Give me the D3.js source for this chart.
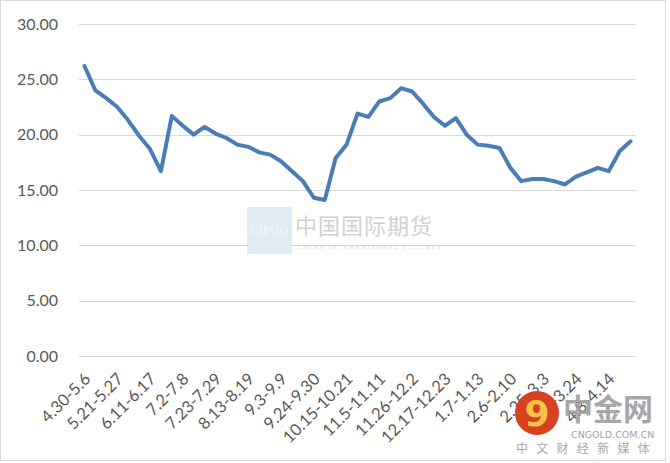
<!DOCTYPE html>
<html>
<head>
<meta charset="utf-8">
<script src="https://cdn.jsdelivr.net/npm/d3@7"></script>
<style>
  body { margin: 0; background: #fff; }
  svg { display: block; }
</style>
</head>
<body>
<svg id="chart" width="670" height="463"></svg>
<script>
// weekly categories (every third one gets a label)
const weeks = [
  '4.30-5.6', '5.7-5.13', '5.14-5.20', '5.21-5.27', '5.28-6.3', '6.4-6.10',
  '6.11-6.17', '6.18-6.24', '6.25-7.1', '7.2-7.8', '7.9-7.15', '7.16-7.22',
  '7.23-7.29', '7.30-8.5', '8.6-8.12', '8.13-8.19', '8.20-8.26', '8.27-9.2',
  '9.3-9.9', '9.10-9.16', '9.17-9.23', '9.24-9.30', '10.1-10.7', '10.8-10.14',
  '10.15-10.21', '10.22-10.28', '10.29-11.4', '11.5-11.11', '11.12-11.18', '11.19-11.25',
  '11.26-12.2', '12.3-12.9', '12.10-12.16', '12.17-12.23', '12.24-12.30', '12.31-1.6',
  '1.7-1.13', '1.14-1.20', '1.21-1.27', '2.6-2.10', '2.11-2.17', '2.18-2.24',
  '2.25-3.3', '3.4-3.10', '3.11-3.17', '3.18-3.24', '3.25-3.31', '4.1-4.7',
  '4.8-4.14', '4.15-4.21', '4.22-4.28'
];

const values = [
  26.2, 24.0, 23.3, 22.5, 21.3, 19.9,
  18.7, 16.7, 21.7, 20.8, 20.0, 20.7,
  20.1, 19.7, 19.1, 18.9, 18.4, 18.2,
  17.6, 16.7, 15.8, 14.3, 14.1, 17.9,
  19.1, 21.9, 21.6, 23.0, 23.3, 24.2,
  23.9, 22.8, 21.6, 20.8, 21.5, 20.0,
  19.1, 19.0, 18.8, 17.0, 15.8, 16.0,
  16.0, 15.8, 15.5, 16.2, 16.6, 17.0,
  16.7, 18.5, 19.4
];

const yTicks = [0, 5, 10, 15, 20, 25, 30];

const svg = d3.select('#chart');

// outer frame
svg.append('rect')
  .attr('x', 0.5).attr('y', 0.5)
  .attr('width', 665).attr('height', 460)
  .attr('fill', '#fff')
  .attr('stroke', '#d9d9d9');

const x = d3.scalePoint()
  .domain(weeks)
  .range([79, 636])
  .padding(0.5);

const y = d3.scaleLinear()
  .domain([0, 30])
  .range([356, 24]);

// gridlines
svg.append('g')
  .selectAll('line')
  .data(yTicks)
  .enter()
  .append('line')
  .attr('x1', 79)
  .attr('x2', 636)
  .attr('y1', d => Math.round(y(d)) + 0.5)
  .attr('y2', d => Math.round(y(d)) + 0.5)
  .style('stroke', '#d9d9d9')
  .style('stroke-width', '1px');

// y labels
svg.append('g')
  .selectAll('text')
  .data(yTicks)
  .enter()
  .append('text')
  .attr('x', 58)
  .attr('y', d => y(d))
  .attr('dy', '0.35em')
  .attr('text-anchor', 'end')
  .style('font-family', 'Lato, "Open Sans", sans-serif')
  .style('font-size', '16px')
  .style('fill', '#595959')
  .text(d => d.toFixed(2));

// x labels, every third week
svg.append('g')
  .selectAll('text')
  .data(weeks.filter((d, i) => i % 3 === 0))
  .enter()
  .append('text')
  .attr('transform', d => 'translate(' + (x(d) + 3) + ',376) rotate(-45)')
  .attr('text-anchor', 'end')
  .attr('dy', '0.35em')
  .style('font-family', 'Lato, "Open Sans", sans-serif')
  .style('font-size', '16.5px')
  .style('fill', '#595959')
  .text(d => d);

// CIFCO watermark
const wm = svg.append('g').style('opacity', 0.85);
wm.append('rect')
  .attr('x', 247).attr('y', 207)
  .attr('width', 45).attr('height', 47)
  .attr('fill', '#dde7f1');
wm.append('text')
  .attr('x', 269).attr('y', 234)
  .attr('text-anchor', 'middle')
  .style('font-family', '"DejaVu Serif", serif')
  .style('font-size', '11px')
  .style('fill', '#f4f7fb')
  .text('CIFCO');
wm.append('text')
  .attr('x', 295).attr('y', 234)
  .style('font-family', '"Noto Sans CJK SC", sans-serif')
  .style('font-size', '22px')
  .style('letter-spacing', '1px')
  .style('fill', '#c9c9c9')
  .text('中国国际期货');
wm.append('text')
  .attr('x', 297).attr('y', 249)
  .style('font-family', '"DejaVu Serif", serif')
  .style('font-size', '5.5px')
  .style('letter-spacing', '1.6px')
  .style('fill', '#d0d0d0')
  .text('CHINA INTERNATIONAL FUTURES');

// data line
const line = d3.line()
  .x((d, i) => x(weeks[i]))
  .y(d => y(d));

svg.append('path')
  .datum(values)
  .attr('d', line)
  .attr('fill', 'none')
  .style('stroke', '#4a7db5')
  .style('stroke-width', '4px')
  .style('stroke-linejoin', 'round')
  .style('stroke-linecap', 'round');

// CNGOLD logo
const logo = svg.append('g');
logo.append('circle')
  .attr('cx', 537).attr('cy', 413).attr('r', 22)
  .attr('fill', '#d8401f');
logo.append('text')
  .attr('x', 537).attr('y', 426)
  .attr('text-anchor', 'middle')
  .style('font-family', '"DejaVu Sans", sans-serif')
  .style('font-weight', 'bold')
  .style('font-size', '36px')
  .style('fill', '#f7c14a')
  .text('9');
logo.append('text')
  .attr('x', 563).attr('y', 420)
  .style('font-family', '"Noto Sans CJK SC", sans-serif')
  .style('font-weight', 'bold')
  .style('font-size', '30px')
  .style('fill', '#9e9e9e')
  .style('opacity', 0.9)
  .text('中金网');
logo.append('text')
  .attr('x', 571).attr('y', 438)
  .style('font-family', '"DejaVu Sans", sans-serif')
  .style('font-size', '9.5px')
  .style('fill', '#a0a0a0')
  .text('CNGOLD.COM.CN');
logo.append('text')
  .attr('x', 516).attr('y', 453)
  .style('font-family', '"Noto Sans CJK SC", sans-serif')
  .style('font-size', '12px')
  .style('letter-spacing', '8.3px')
  .style('fill', '#a8a8a8')
  .text('中文财经新媒体');
</script>
</body>
</html>
